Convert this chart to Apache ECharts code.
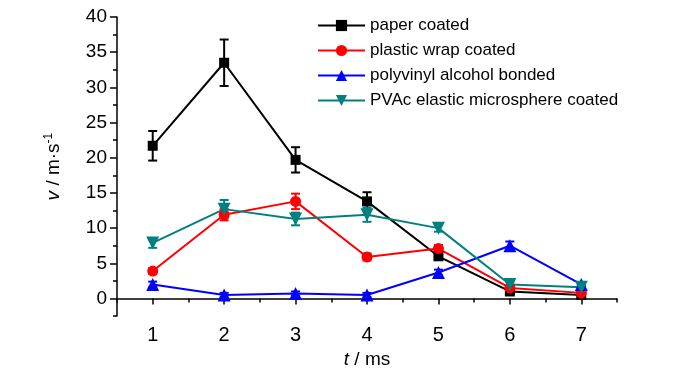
<!DOCTYPE html>
<html>
<head>
<meta charset="utf-8">
<script src="https://cdn.jsdelivr.net/npm/echarts@6/dist/echarts.min.js"></script>
<style>html,body{margin:0;padding:0;background:#fff}#c{width:700px;height:374px}</style>
</head>
<body>
<div id="c"></div>
<script>
var times = [1, 2, 3, 4, 5, 6, 7];
var seriesNames = ['paper coated', 'plastic wrap coated', 'polyvinyl alcohol bonded', 'PVAc elastic microsphere coated'];
var paperVals = [21.7, 33.5, 19.7, 13.8, 6.0, 1.0, 0.5];
var paperErr  = [2.1, 3.3, 1.8, 1.3, 0.4, 0.3, 0.3];
var wrapVals  = [3.9, 11.9, 13.8, 5.9, 7.1, 1.5, 0.8];
var wrapErr   = [0.4, 0.8, 1.1, 0.5, 0.5, 0.3, 0.3];
var pvaVals   = [2.0, 0.5, 0.7, 0.5, 3.7, 7.5, 2.0];
var pvaErr    = [0.4, 0.3, 0.3, 0.3, 0.4, 0.6, 0.3];
var pvacVals  = [7.9, 12.7, 11.3, 11.9, 10.0, 2.0, 1.6];
var pvacErr   = [0.7, 1.3, 0.9, 1.0, 0.5, 0.3, 0.3];
var yMajorTicks = [0, 5, 10, 15, 20, 25, 30, 35, 40];
var yMinorTicks = [-2.5, 2.5, 7.5, 12.5, 17.5, 22.5, 27.5, 32.5, 37.5];
var xMajorTicks = [1, 2, 3, 4, 5, 6, 7];
var xMinorTicks = [0.5, 1.5, 2.5, 3.5, 4.5, 5.5, 6.5, 7.5];

var colors = ['#000000', '#ff0000', '#0000ff', '#008080'];
var symbols = ['rect', 'circle', 'triangle', 'triangle'];
var rotates = [0, 0, 0, 180];
var sizes = [10, 11, 13, 13];
var allVals = [paperVals, wrapVals, pvaVals, pvacVals];
var allErr = [paperErr, wrapErr, pvaErr, pvacErr];
var FONT = 'Liberation Sans, Arial, sans-serif';

var series = [];
allVals.forEach(function (vals, k) {
  series.push({
    name: 'err' + k,
    type: 'custom',
    xAxisIndex: 0, yAxisIndex: 0,
    z: 1,
    silent: true,
    data: times.map(function (t, i) { return [t, vals[i], allErr[k][i]]; }),
    encode: { x: 0, y: 1 },
    renderItem: function (params, api) {
      var x = api.value(0), y = api.value(1), e = api.value(2);
      var top = api.coord([x, y + e]);
      var bot = api.coord([x, y - e]);
      var w = 4.5;
      var st = { stroke: colors[k], lineWidth: 2 };
      return {
        type: 'group',
        children: [
          { type: 'line', shape: { x1: top[0], y1: top[1], x2: bot[0], y2: bot[1] }, style: st },
          { type: 'line', shape: { x1: top[0] - w, y1: top[1], x2: top[0] + w, y2: top[1] }, style: st },
          { type: 'line', shape: { x1: bot[0] - w, y1: bot[1], x2: bot[0] + w, y2: bot[1] }, style: st }
        ]
      };
    }
  });
});
allVals.forEach(function (vals, k) {
  series.push({
    name: seriesNames[k],
    type: 'line',
    xAxisIndex: 0, yAxisIndex: 0,
    z: 2,
    data: times.map(function (t, i) { return [t, vals[i]]; }),
    symbol: symbols[k],
    symbolSize: sizes[k],
    symbolRotate: rotates[k],
    showAllSymbol: true,
    lineStyle: { color: colors[k], width: 2 },
    itemStyle: { color: colors[k] },
    emphasis: { disabled: true },
    animation: false
  });
});

var chart = echarts.init(document.getElementById('c'));
chart.setOption({
  animation: false,
  backgroundColor: '#fff',
  grid: { left: 117, right: 83, top: 17, bottom: 57 },
  legend: {
    data: seriesNames,
    orient: 'vertical',
    left: 317, top: 17, padding: 0,
    itemWidth: 47, itemHeight: 14, itemGap: 8,
    textStyle: { fontSize: 17, fontFamily: FONT, color: '#000' }
  },
  xAxis: [{
    type: 'value', min: 0.5, max: 7.5,
    name: '{i|t} / ms', nameLocation: 'middle', nameGap: 27,
    nameTextStyle: { fontSize: 19, fontFamily: FONT, color: '#000',
      rich: { i: { fontStyle: 'italic', fontSize: 19, fontFamily: FONT, color: '#000' } } },
    axisLine: { show: true, lineStyle: { color: '#000', width: 1.5 } },
    axisTick: { show: true, inside: false, length: 6, customValues: xMajorTicks, lineStyle: { color: '#000', width: 1.5 } },
    axisLabel: { customValues: xMajorTicks, fontSize: 20, fontFamily: FONT, color: '#000', margin: 9 },
    splitLine: { show: false }
  }, {
    type: 'value', min: 0.5, max: 7.5, position: 'bottom',
    axisLine: { show: false },
    axisTick: { show: true, length: 4, customValues: xMinorTicks, lineStyle: { color: '#000', width: 1.5 } },
    axisLabel: { show: false },
    splitLine: { show: false }
  }],
  yAxis: [{
    type: 'value', min: -2.5, max: 40,
    name: '{i|v} / m·s{sup|-1}', nameLocation: 'middle', nameGap: 52, nameRotate: 90,
    nameTextStyle: { fontSize: 19, fontFamily: FONT, color: '#000',
      rich: {
        i: { fontStyle: 'italic', fontSize: 19, fontFamily: FONT, color: '#000' },
        sup: { fontSize: 12, fontFamily: FONT, color: '#000', verticalAlign: 'top', padding: [0, 0, 10, 0] }
      } },
    axisLine: { show: true, lineStyle: { color: '#000', width: 1.5 } },
    axisTick: { show: true, length: 7, customValues: yMajorTicks, lineStyle: { color: '#000', width: 1.5 } },
    axisLabel: { customValues: yMajorTicks, fontSize: 19, fontFamily: FONT, color: '#000', margin: 10 },
    splitLine: { show: false }
  }, {
    type: 'value', min: -2.5, max: 40, position: 'left',
    axisLine: { show: false },
    axisTick: { show: true, length: 4, customValues: yMinorTicks, lineStyle: { color: '#000', width: 1.5 } },
    axisLabel: { show: false },
    splitLine: { show: false }
  }],
  series: series
});
</script>
</body>
</html>
